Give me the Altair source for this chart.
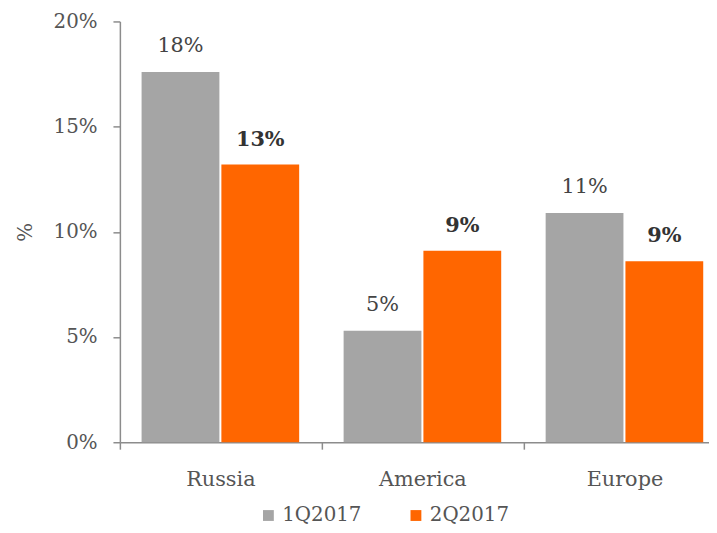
import altair as alt
import pandas as pd

regions = ["Russia", "America", "Europe"]
series = ["1Q2017", "2Q2017"]
q1 = [0.176, 0.053, 0.109]
q2 = [0.132, 0.091, 0.086]
colors = ["#A5A5A5", "#FF6600"]

rows = []
for r, a, b in zip(regions, q1, q2):
    rows.append({"region": r, "series": series[0], "value": a})
    rows.append({"region": r, "series": series[1], "value": b})
df = pd.DataFrame(rows)

FONT = "DejaVu Serif"
TXT = "#555555"
AX = "#8c8c8c"

x = alt.X(
    "region:N", sort=regions, title=None,
    scale=alt.Scale(paddingInner=0.22, paddingOuter=0.068, align=0.79),
    axis=alt.Axis(bandPosition=0, tickOffset=-22, labelOffset=22, labelAngle=0,
                  labelFontSize=21, labelFont=FONT,
                  labelColor=TXT, labelPadding=20, domainColor=AX, tickColor=AX,
                  tickSize=7, domainWidth=1.5, tickWidth=1.5),
)
y = alt.Y(
    "value:Q", scale=alt.Scale(domain=[0, 0.2]),
    axis=alt.Axis(values=[0, 0.05, 0.1, 0.15, 0.2], format=".0%", title="%",
                  labelFontSize=20, labelFont=FONT, labelColor=TXT, labelPadding=16,
                  titleFont=FONT, titleFontSize=20, titleFontWeight="normal",
                  titleColor=TXT, titlePadding=18, grid=False, domainColor=AX,
                  tickColor=AX, tickSize=7, domainWidth=1.5, tickWidth=1.5),
)
xo = alt.XOffset("series:N", sort=series, scale=alt.Scale(paddingInner=0.025))

base = alt.Chart(df).encode(x=x, xOffset=xo)

bars = base.mark_bar().encode(
    y=y,
    color=alt.Color(
        "series:N", sort=series,
        scale=alt.Scale(domain=series, range=colors),
        legend=alt.Legend(title=None, orient="none", legendX=140, legendY=489,
                          direction="horizontal", symbolType="square", symbolSize=120,
                          symbolStrokeWidth=0, labelFontSize=20, labelFont=FONT,
                          labelColor=TXT, columnPadding=44, labelOffset=4),
    ),
)

lab1 = base.transform_filter(alt.datum.series == series[0]).mark_text(
    font=FONT, fontSize=21, color="#444444", dy=-26
).encode(y="value:Q", text=alt.Text("value:Q", format=".0%"))

lab2 = base.transform_filter(alt.datum.series == series[1]).mark_text(
    font=FONT, fontSize=21, fontWeight="bold", color="#333333", dy=-25
).encode(y="value:Q", text=alt.Text("value:Q", format=".0%"))

chart = alt.layer(bars, lab1, lab2).properties(
    width=595, height=425,
    autosize=alt.AutoSizeParams(type="none"),
    padding={"left": 113, "top": 11, "right": 0, "bottom": 81},
).configure_view(stroke=None)

chart.save("out.html", embed_options={"renderer": "svg", "actions": False})
